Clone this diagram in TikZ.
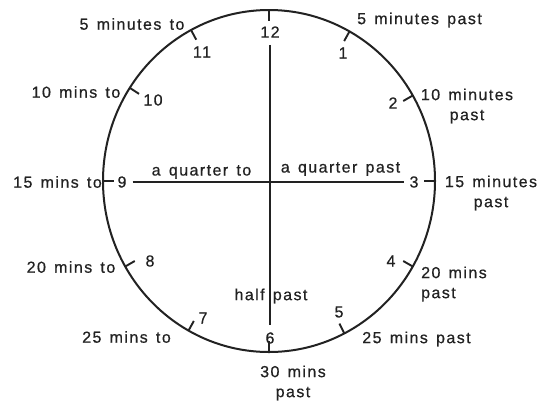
\documentclass[tikz,border=0pt]{standalone}
\usepackage{fontspec}
\setmainfont{Liberation Sans}[LetterSpace=9,WordSpace=1.4,FakeBold=0.6]
\definecolor{ink}{HTML}{222222}
\begin{document}
\begin{tikzpicture}[x=1pt,y=-1pt,
  lbl/.style={inner sep=0pt,text=ink,font=\fontsize{16}{20}\selectfont},
  num/.style={lbl},
  tickmark/.style={line width=1.9pt,draw=ink},
  crossline/.style={line width=1.5pt,draw=ink}]
\useasboundingbox[fill=white] (0,0) rectangle (556,400);
% dial
\draw[line width=2pt,draw=ink] (269,181) ellipse [x radius=166pt, y radius=171pt];
\foreach \a in {90,61,30,0,-30,-63,-90,-119,-150,180,147,118}
  \draw[tickmark] ({269+166*cos(\a)},{181-171*sin(\a)}) -- ({269+155*cos(\a)},{181-160*sin(\a)});
% numbers
\node[num] (n12) at (270,32) {12};
\node[num] (n1) at (343,53) {1};
\node[num] (n2) at (393,103) {2};
\node[num] (n3) at (414,182) {3};
\node[num] (n4) at (391,261) {4};
\node[num] (n5) at (339,312) {5};
\node[num] (n6) at (270,338) {6};
\node[num] (n7) at (203,318) {7};
\node[num] (n8) at (150,261) {8};
\node[num] (n9) at (122,182) {9};
\node[num] (n10) at (153,100) {10};
\node[num] (n11) at (202,52) {11};
% cross
\draw[crossline,shorten <=7pt,shorten >=7pt] (n12.south) -- (n6.north);
\draw[crossline,shorten <=6pt,shorten >=5pt] (n9.east) -- (n3.west);
% inner labels
\node[lbl] (qto) at (201.5,172) {a quarter to};
\node[lbl] (qpast) at (340.5,169) {a quarter past};
\node[lbl] (half) at (271,296) {half past};
% outer labels
\node[lbl] (m55) at (132,24) {5 minutes to};
\node[lbl] (m50) at (76,92) {10 mins to};
\node[lbl] (m45) at (57.5,182) {15 mins to};
\node[lbl] (m40) at (71,267) {20 mins to};
\node[lbl] (m35) at (126.5,337) {25 mins to};
\node[lbl] (m5) at (419.5,20) {5 minutes past};
\node[lbl,align=center] (m10) at (467,106) {10 minutes\\past};
\node[lbl,align=center] (m15) at (491,193) {15 minutes\\past};
\node[lbl,align=left,anchor=west] (m20) at (421,284) {20 mins\\past};
\node[lbl] (m25) at (416.5,339) {25 mins past};
\node[lbl,align=center] (m30) at (293,383) {30 mins\\past};
\end{tikzpicture}
\end{document}
